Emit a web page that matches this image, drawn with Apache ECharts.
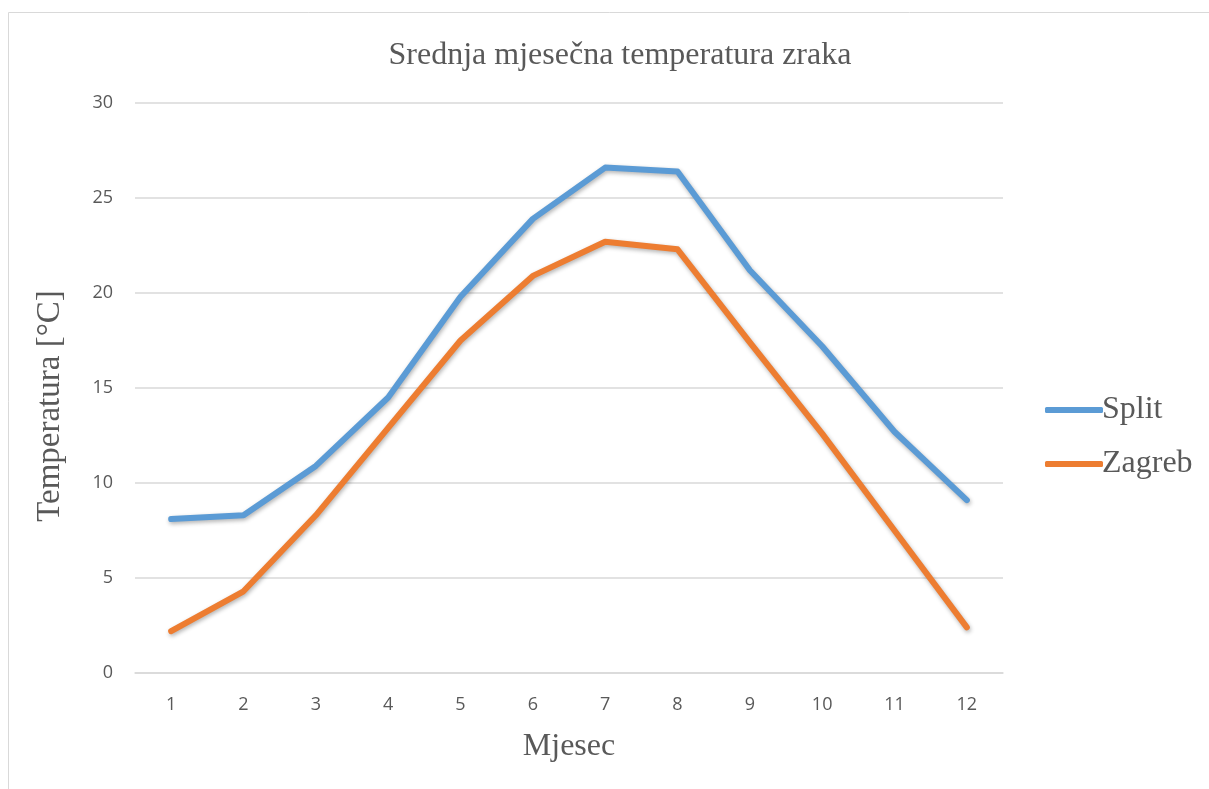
<!DOCTYPE html>
<html><head><meta charset="utf-8">
<script src="https://cdn.jsdelivr.net/npm/echarts@6/dist/echarts.min.js"></script>
<style>html,body{margin:0;padding:0;background:#fff}#c{width:1209px;height:789px}</style>
</head><body><div id="c"></div>
<script>
const months = ['1','2','3','4','5','6','7','8','9','10','11','12'];
const split = [8.1, 8.3, 10.9, 14.5, 19.8, 23.9, 26.6, 26.4, 21.2, 17.2, 12.7, 9.1];
const zagreb = [2.2, 4.3, 8.3, 12.9, 17.5, 20.9, 22.7, 22.3, 17.4, 12.6, 7.5, 2.4];
const yTicks = [0, 5, 10, 15, 20, 25, 30];

const serif = "'Liberation Serif','DejaVu Serif',serif";
const sans = "'Open Sans','Liberation Sans',sans-serif";
const chart = echarts.init(document.getElementById('c'));
const lineStyle = (c) => ({width: 6, color: c, cap: 'round', join: 'round', shadowColor: 'rgba(0,0,0,0.3)', shadowBlur: 4, shadowOffsetX: 1, shadowOffsetY: 2});
chart.setOption({
  animation: false,
  graphic: [{type: 'rect', shape: {x: 8.5, y: 12.5, width: 1300, height: 900}, style: {fill: 'none', stroke: '#d9d9d9', lineWidth: 1}, silent: true}],
  title: {text: 'Srednja mjesečna temperatura zraka', left: 615, top: 35, textAlign: 'center',
    textStyle: {fontFamily: serif, fontSize: 32, fontWeight: 'normal', color: '#595959'}},
  grid: {left: 135, right: 206, top: 103, bottom: 116},
  legend: {orient: 'vertical', left: 1040, top: 389, itemWidth: 58, itemHeight: 6, itemGap: 22,
    icon: 'roundRect',
    textStyle: {fontFamily: serif, fontSize: 32, color: '#595959', padding: [0, 0, 0, -6]},
    data: ['Split', 'Zagreb']},
  xAxis: {type: 'category', data: months, boundaryGap: true,
    name: 'Mjesec', nameLocation: 'middle', nameGap: 58,
    nameTextStyle: {fontFamily: serif, fontSize: 32, color: '#595959'},
    axisLine: {lineStyle: {color: '#d9d9d9', width: 1.5}}, axisTick: {show: false},
    axisLabel: {fontFamily: sans, fontSize: 18, color: '#595959', margin: 23}},
  yAxis: {type: 'value', min: yTicks[0], max: yTicks[yTicks.length - 1], interval: 5,
    name: 'Temperatura [°C]', nameLocation: 'middle', nameGap: 68,
    nameTextStyle: {fontFamily: serif, fontSize: 33, color: '#595959', padding: [0, 36, 0, 0]},
    axisLine: {show: false}, axisTick: {show: false},
    axisLabel: {fontFamily: sans, fontSize: 18, color: '#595959', margin: 22},
    splitLine: {lineStyle: {color: '#d9d9d9', width: 1.5}}},
  series: [
    {name: 'Split', type: 'line', data: split, symbol: 'none', color: '#5B9BD5', lineStyle: lineStyle('#5B9BD5')},
    {name: 'Zagreb', type: 'line', data: zagreb, symbol: 'none', color: '#ED7D31', lineStyle: lineStyle('#ED7D31')}
  ]
});
</script></body></html>
